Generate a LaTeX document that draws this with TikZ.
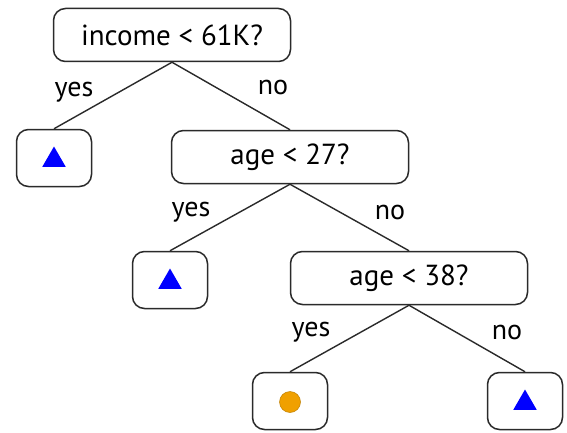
\documentclass[tikz,border=0pt]{standalone}
\usepackage{fontspec}
\setmainfont{PT Sans}
\usetikzlibrary{shapes.geometric}
\definecolor{edgegray}{HTML}{2A2A2A}
\definecolor{dotorange}{HTML}{F0A000}
\begin{document}
\begin{tikzpicture}[x=1pt,y=-1pt,
  box/.style={draw=edgegray,line width=1.5pt,rounded corners=12pt,fill=white,
    minimum height=#1,inner sep=0pt},
  qbox/.style={box=53pt,minimum width=237pt,font=\fontsize{29}{33}\selectfont},
  leaf/.style={box=57pt,minimum width=75pt},
  edge/.style={draw=edgegray,line width=1.4pt},
  lbl/.style={font=\fontsize{28}{32}\selectfont,text=black,inner sep=0pt},
  tri/.style={regular polygon,regular polygon sides=3,fill=blue,minimum size=27pt,inner sep=0pt},
  dot/.style={circle,fill=dotorange,draw=dotorange!80!black,line width=0.5pt,minimum size=21pt,inner sep=0pt}]
\useasboundingbox (0,0) rectangle (567,433);
\fill[white] (0,0) rectangle (567,433);
\node[qbox] (root) at (172,35) {income < 61K?};
\node[leaf] (l1) at (54,158) {};
\node[qbox] (a27) at (290,157) {age < 27?};
\node[leaf] (l2) at (170,280) {};
\node[qbox] (a38) at (409,278) {age < 38?};
\node[leaf] (l3) at (290,401) {};
\node[leaf] (l4) at (525,401) {};
\node[tri] (t1) at (54,160) {};
\node[tri] (t2) at (170,282) {};
\node[dot] (d3) at (290,402) {};
\node[tri] (t4) at (525,403) {};
\path[edge] (root.south) -- (l1.north);
\path[edge] (root.south) -- (a27.north);
\path[edge] (a27.south) -- (l2.north);
\path[edge] (a27.south) -- (a38.north);
\path[edge] (a38.south) -- (l3.north);
\path[edge] (a38.south) -- (l4.north);
\node[lbl] (y1) at (74,92) {yes};
\node[lbl] (n1) at (273,88) {no};
\node[lbl] (y2) at (191,212) {yes};
\node[lbl] (n2) at (390,212) {no};
\node[lbl] (y3) at (311,332) {yes};
\node[lbl] (n3) at (507,332) {no};
\end{tikzpicture}
\end{document}
